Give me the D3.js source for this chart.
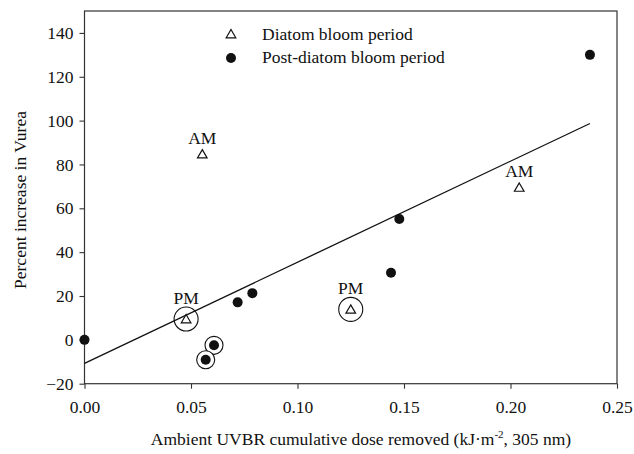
<!DOCTYPE html>
<html><head><meta charset="utf-8">
<script src="https://cdn.jsdelivr.net/npm/d3@7"></script>
<style>body{margin:0;background:#fff}svg{display:block}svg text{font-family:"Liberation Serif","Times New Roman",serif !important;fill:#111}</style>
</head><body>
<svg id="c" width="634" height="454" font-family="Liberation Serif"></svg>
<script>
// Data
const diatomX = [0.0553, 0.0477, 0.125, 0.2041];
const diatomY = [84.7, 9.5, 13.9, 69.5];
const diatomLabel = ["AM", "PM", "PM", "AM"];
const diatomCircled = [false, true, true, false];
const postX = [0.0, 0.0608, 0.0569, 0.0719, 0.0788, 0.1439, 0.1478, 0.2373];
const postY = [0, -2.5, -9.1, 17.1, 21.3, 30.6, 55.1, 130];
const postCircled = [false, true, true, false, false, false, false, false];
const fitX = [0, 0.2373];
const fitY = [-10.7, 98.7];
const xTicks = [0, 0.05, 0.10, 0.15, 0.20, 0.25];
const yTicks = [-20, 0, 20, 40, 60, 80, 100, 120, 140];
const legendLabels = ["Diatom bloom period", "Post-diatom bloom period"];

const FS = "17.5px";
const svg = d3.select("#c");
const L = 84.5, R = 617, T = 11, B = 383.7;
const x = d3.scaleLinear().domain([0, 0.25]).range([L, R]);
const y = d3.scaleLinear().domain([-20, 150]).range([B, T]);

// frame
svg.append("rect").attr("x", L).attr("y", T).attr("width", R - L).attr("height", B - T)
  .attr("fill", "none").attr("stroke", "#333").attr("stroke-width", 1.2);

const xa = svg.append("g").attr("transform", `translate(0,${B})`)
  .call(d3.axisBottom(x).tickValues(xTicks).tickFormat(d3.format(".2f")).tickSize(5).tickPadding(12));
const ya = svg.append("g").attr("transform", `translate(${L},0)`)
  .call(d3.axisLeft(y).tickValues(yTicks).tickSize(5).tickPadding(6));
[xa, ya].forEach(a => {
  a.attr("font-family", "Liberation Serif").attr("font-size", null);
  a.select(".domain").remove();
  a.selectAll("line").attr("stroke", "#333").attr("stroke-width", 1.1);
  a.selectAll("text").attr("font-family", "Liberation Serif").style("font-size", FS).attr("fill", "#111");
});

// regression line
svg.append("line").attr("x1", x(fitX[0])).attr("y1", y(fitY[0])).attr("x2", x(fitX[1])).attr("y2", y(fitY[1]))
  .attr("stroke", "#111").attr("stroke-width", 1.3);

const tri = d3.symbol().type(d3.symbolTriangle).size(40);

// post-diatom points
postX.forEach((v, i) => {
  const cx = x(v), cy = y(postY[i]);
  if (postCircled[i]) svg.append("circle").attr("cx", cx).attr("cy", cy).attr("r", 9).attr("fill", "#fff").attr("stroke", "#111").attr("stroke-width", 1.1);
  svg.append("circle").attr("cx", cx).attr("cy", cy).attr("r", 5).attr("fill", "#111");
});

// diatom points
diatomX.forEach((v, i) => {
  const cx = x(v), cy = y(diatomY[i]);
  if (diatomCircled[i]) svg.append("circle").attr("cx", cx).attr("cy", cy).attr("r", 12).attr("fill", "none").attr("stroke", "#111").attr("stroke-width", 1.1);
  svg.append("path").attr("d", tri).attr("transform", `translate(${cx},${cy + 1})`)
    .attr("fill", "#fff").attr("stroke", "#111").attr("stroke-width", 1.2);
  svg.append("text").attr("x", cx).attr("y", cy - (diatomCircled[i] ? 15 : 10))
    .attr("text-anchor", "middle").style("font-size", FS).text(diatomLabel[i]);
});

// legend
const lg = svg.append("g");
lg.append("path").attr("d", tri).attr("transform", `translate(231,35)`).attr("fill", "#fff").attr("stroke", "#111").attr("stroke-width", 1.2);
lg.append("circle").attr("cx", 231).attr("cy", 58).attr("r", 5).attr("fill", "#111");
legendLabels.forEach((t, i) => {
  lg.append("text").attr("x", 262).attr("y", 40 + i * 23).style("font-size", FS).text(t);
});

// axis titles
const xt = svg.append("text").attr("x", 361).attr("y", 445).attr("text-anchor", "middle").style("font-size", FS);
xt.append("tspan").text("Ambient UVBR cumulative dose removed (kJ\u00B7m");
xt.append("tspan").attr("dy", -7).style("font-size", "11px").text("-2");
xt.append("tspan").attr("dy", 7).text(", 305 nm)");

svg.append("text").attr("transform", "translate(26,200) rotate(-90)").attr("text-anchor", "middle")
  .style("font-size", FS).text("Percent increase in Vurea");
</script>
</body></html>
